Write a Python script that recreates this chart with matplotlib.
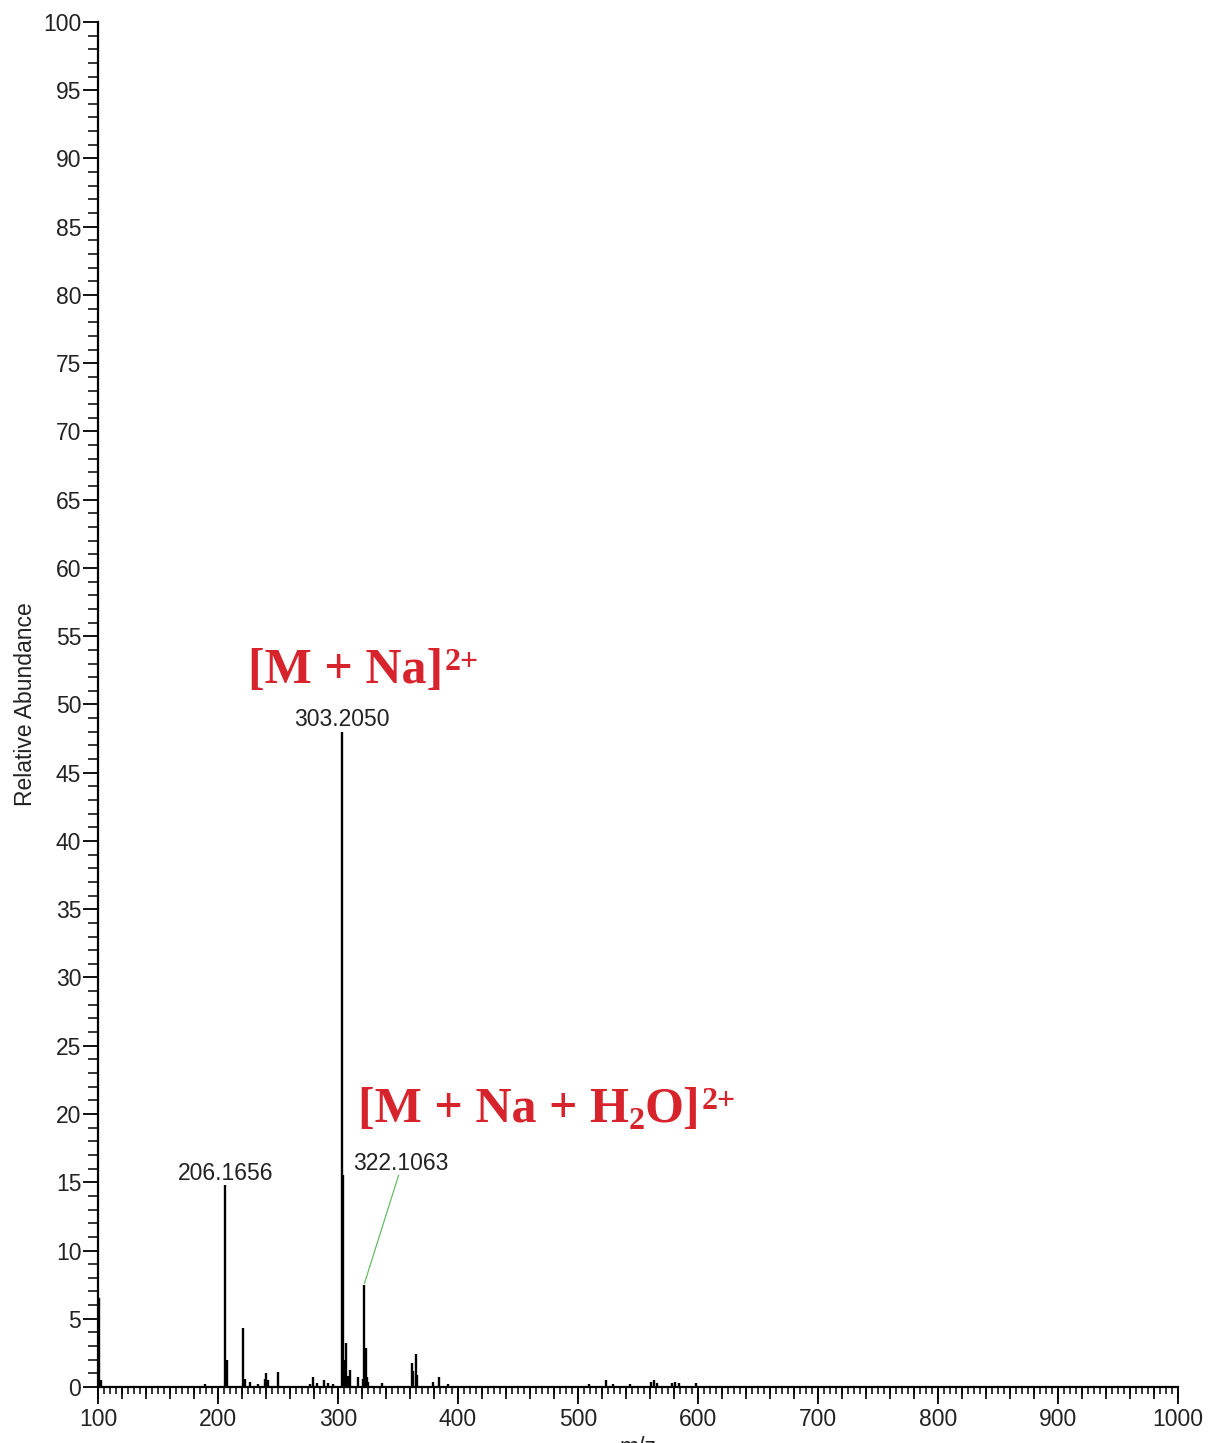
import matplotlib.pyplot as plt
from matplotlib.ticker import MultipleLocator

plt.rcParams['font.family'] = ['Liberation Sans', 'DejaVu Sans']

# peak list (m/z, relative abundance)
mz = [100.4, 101.2, 102.3, 189.0, 206.17, 207.2, 220.8, 222.6, 227.0, 233.5,
      238.8, 240.2, 241.5, 249.7, 276.7, 279.0, 282.5, 288.0, 291.7, 296.0,
      303.205, 304.2, 305.3, 306.7, 308.0, 310.0, 317.0, 321.0, 322.106, 323.1,
      324.0, 325.0, 337.0, 361.4, 362.6, 364.7, 366.0, 379.0, 384.0, 391.7,
      509.0, 523.0, 529.0, 543.0, 561.0, 563.0, 566.0, 578.0, 581.0, 584.0, 598.0]
abundance = [6.6, 6.5, 0.5, 0.2, 14.8, 2.0, 4.3, 0.6, 0.4, 0.2,
             0.6, 1.0, 0.5, 1.1, 0.2, 0.7, 0.3, 0.5, 0.3, 0.2,
             48.0, 15.5, 2.0, 3.2, 0.8, 1.25, 0.75, 0.6, 7.5, 2.85,
             0.7, 0.4, 0.3, 1.75, 1.2, 2.4, 0.9, 0.4, 0.75, 0.2,
             0.2, 0.5, 0.2, 0.2, 0.4, 0.5, 0.3, 0.3, 0.4, 0.3, 0.3]

peak_labels = ["206.1656", "303.2050", "322.1063"]
label_x = [206.17, 303.205, 352.0]
label_y = [15.2, 48.4, 15.9]

fig = plt.figure(figsize=(12.08, 14.43), dpi=100)
ax = fig.add_axes([0.0811, 0.0388, 0.894, 0.946])

ax.vlines(mz, 0, abundance, color='black', lw=1.7)

ax.set_xlim(100, 1000)
ax.set_ylim(0, 100)
ax.spines['top'].set_visible(False)
ax.spines['right'].set_visible(False)
ax.spines['left'].set_linewidth(1.6)
ax.spines['bottom'].set_linewidth(1.6)

ax.xaxis.set_major_locator(MultipleLocator(100))
ax.xaxis.set_minor_locator(MultipleLocator(5))
ax.yaxis.set_major_locator(MultipleLocator(5))
ax.yaxis.set_minor_locator(MultipleLocator(1))
ax.tick_params(axis='x', which='major', length=12, width=1.3, labelsize=16.5,
               labelcolor='#222222', pad=3)
ax.tick_params(axis='x', which='minor', length=5, width=1.1)
ax.tick_params(axis='y', which='major', length=11, width=1.3, labelsize=16.5,
               labelcolor='#222222', pad=1)
ax.tick_params(axis='y', which='minor', length=7, width=1.1)

# medium ticks every 20
sec = ax.secondary_xaxis('bottom')
sec.set_xticks(range(100, 1001, 20))
sec.tick_params(length=8.5, width=1.2, labelbottom=False)
sec.spines['bottom'].set_visible(False)

ax.set_ylabel("Relative Abundance", fontsize=16.5, color='#222222', labelpad=4)
ax.set_xlabel("m/z", fontsize=16.5, color='#222222', labelpad=4)

for t, x, y in zip(peak_labels, label_x, label_y):
    ax.text(x, y, t, ha='center', va='baseline', fontsize=16.5, color='#222222')

ax.plot([322.106, 350.5], [7.6, 15.5], color='#66bb66', lw=0.9)

red = '#d7232b'
serif = dict(family='Liberation Serif', fontweight='bold', color=red)

t1 = ax.text(225, 51.6, '[M + Na]', fontsize=36, ha='left', va='baseline', **serif)
ax.annotate('2+', xy=(1, 1), xycoords=t1, xytext=(1, 0), textcoords='offset points',
            fontsize=23, ha='left', va='top', **serif)

t2 = ax.text(316.7, 19.4, '[M + Na + H', fontsize=36, ha='left', va='baseline', **serif)
sub = ax.annotate('2', xy=(1, 0), xycoords=t2, xytext=(0, -2), textcoords='offset points',
                  fontsize=23, ha='left', va='bottom', **serif)
t3 = ax.annotate('O]', xy=(1, 0), xycoords=(sub, t2), fontsize=36,
                 ha='left', va='bottom', **serif)
ax.annotate('2+', xy=(1, 1), xycoords=t3, xytext=(1, 0), textcoords='offset points',
            fontsize=23, ha='left', va='top', **serif)

fig.savefig("out.png", dpi=100)
